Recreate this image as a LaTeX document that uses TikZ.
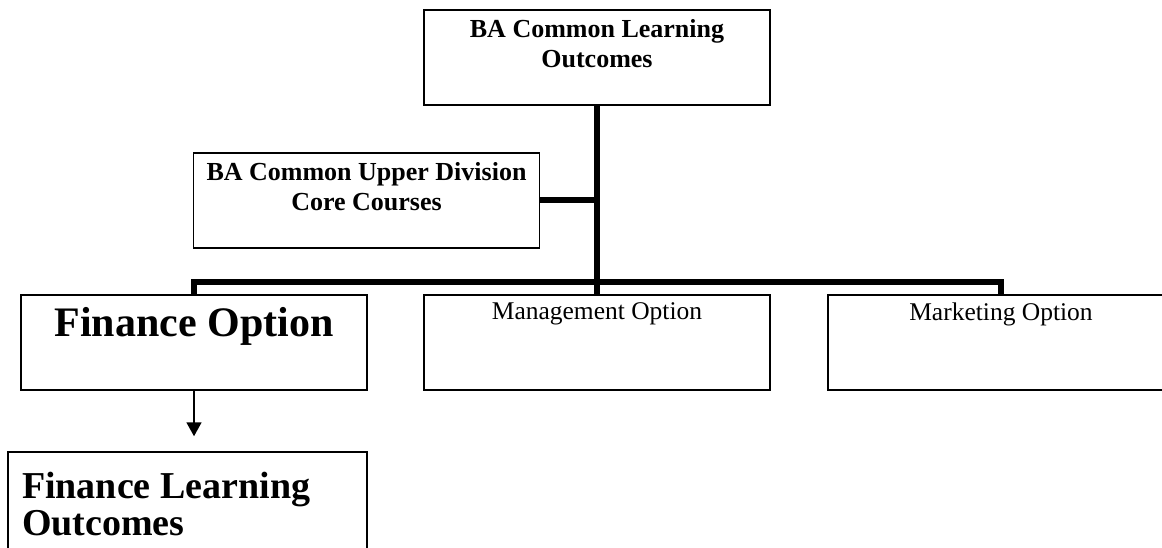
\documentclass[tikz,border=0pt]{standalone}
\usepackage{fontspec}
\setmainfont{Liberation Serif}
\usetikzlibrary{arrows.meta}
\tikzset{
    every node/.style={rectangle, inner sep=0pt, draw, line width=1.5pt},
    bus/.style={line width=6pt},
    flow/.style={line width=1.8pt, -{Triangle[width=15pt,length=14pt]}}
}

\begin{document}
\begin{tikzpicture}[x=1pt, y=-1pt]
    \useasboundingbox (0,0) rectangle (1162,548);

    \node (top) at (597, 57.5) {\parbox[c][95pt][t]{346pt}{\centering
        \fontsize{26}{30}\selectfont\bfseries\vspace*{9pt}BA Common Learning\\Outcomes}};
    \node (core) at (366.5, 200.5) {\parbox[c][95pt][t]{346pt}{\centering
        \fontsize{26}{30}\selectfont\bfseries\vspace*{9pt}BA Common Upper Division\\Core Courses}};

    \node (fin) at (194, 342.5) {\parbox[c][95pt][t]{346pt}{\centering
        \fontsize{42}{48}\selectfont\bfseries\vspace*{12pt}Finance Option}};
    \node (mgmt) at (597, 342.5) {\parbox[c][95pt][t]{346pt}{\centering
        \fontsize{25.5}{30}\selectfont\vspace*{8pt}Management Option}};
    \node (mkt) at (1001, 342.5) {\parbox[c][95pt][t]{346pt}{\centering
        \fontsize{25.5}{30}\selectfont\vspace*{8pt}Marketing Option}};

    \node (learn) at (187.5, 508) {\parbox[c][112pt][t]{359pt}{\raggedright\leftskip=14pt
        \fontsize{38}{37}\selectfont\bfseries\vspace*{20pt}Finance Learning\\Outcomes}};

    \coordinate (hub) at (597, 282);

    \draw[bus] (top.south) -- (mgmt.north);
    \draw[bus] (core.east) -- (core.east -| top.south);
    \draw[bus] (fin.north) |- (hub) -| (mkt.north);

    \draw[flow, shorten >=15pt] (fin.south) -- (fin.south |- learn.north);
\end{tikzpicture}
\end{document}
